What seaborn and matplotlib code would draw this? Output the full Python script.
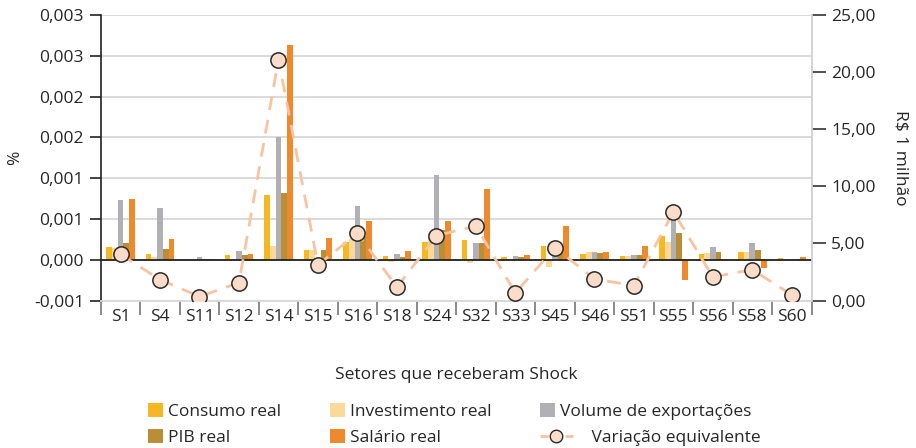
from decimal import Decimal, ROUND_HALF_UP

import numpy as np
import pandas as pd
import matplotlib
matplotlib.use('Agg')
import matplotlib.pyplot as plt
from matplotlib.ticker import FuncFormatter, MultipleLocator, FixedLocator
from matplotlib.patches import Patch, Rectangle
from matplotlib.lines import Line2D
from matplotlib.legend_handler import HandlerPatch, HandlerLine2D
import seaborn as sns

# %%
# data
sectors = ['S1', 'S4', 'S11', 'S12', 'S14', 'S15', 'S16', 'S18', 'S24',
           'S32', 'S33', 'S45', 'S46', 'S51', 'S55', 'S56', 'S58', 'S60']

consumo = [0.000154, 0.00007, 0.00001, 0.00006, 0.0008, 0.000122, 0.000224, 0.000045, 0.000215,
           0.000248, 0.00003, 0.000175, 0.00007, 0.00005, 0.00029, 0.00007, 0.0001, 0.00002]
investimento = [0.00014, 0.00003, 0.00001, 0.0, 0.000167, 0.000126, 0.000256, -0.00003, 0.00033,
                -0.00004, 0.0, -0.00009, 0.0001, 0.00005, 0.00022, 0.00008, 0.00009, 0.0]
exportacoes = [0.00073, 0.00064, 0.00004, 0.000114, 0.0015, 0.0, 0.00066, 0.00007, 0.001045,
               0.0002, 0.000045, 0.00012, 0.0001, 0.00006, 0.00057, 0.00016, 0.0002, 0.0]
pib = [0.0002, 0.000134, 0.00001, 0.00006, 0.00082, 0.000126, 0.00029, 0.00004, 0.00036,
       0.0002, 0.00003, 0.000126, 0.000085, 0.00006, 0.00033, 0.00009, 0.000126, 0.00001]
salario = [0.00075, 0.000256, 0.000005, 0.00007, 0.00263, 0.00027, 0.00048, 0.00011, 0.000476,
           0.00087, 0.00006, 0.00042, 0.0001, 0.000167, -0.00025, 0.0, -0.0001, 0.00003]

variacao = [4.05, 1.84, 0.35, 1.57, 21.1, 3.12, 5.89, 1.17, 5.69,
            6.53, 0.67, 4.64, 1.9, 1.31, 7.78, 2.07, 2.71, 0.5]

series_names = ['Consumo real', 'Investimento real', 'Volume de exportações', 'PIB real', 'Salário real']
colors = ['#F6B822', '#FAD99A', '#B1B1B5', '#B98E36', '#EE8A2C']
line_name = 'Variação equivalente'

# %%
df = pd.DataFrame({
    'setor': np.tile(sectors, len(series_names)),
    'serie': np.repeat(series_names, len(sectors)),
    'valor': np.concatenate([consumo, investimento, exportacoes, pib, salario]),
})

sns.set_style('white')
plt.rcParams['font.family'] = ['Open Sans', 'DejaVu Sans']

fig = plt.figure(figsize=(9.16, 4.48), dpi=100)
ax = fig.add_axes([0.110, 0.329, 0.776, 0.6375])

sns.barplot(data=df, x='setor', y='valor', hue='serie', hue_order=series_names,
            palette=colors, saturation=1, width=0.72, linewidth=0, ax=ax, legend=False)

ax.set_ylim(-0.0005, 0.003)
ax.set_xlim(-0.5, len(sectors) - 0.5)
ax.yaxis.set_major_locator(MultipleLocator(0.0005))


def fmt_left(v, pos):
    d = Decimal(str(round(v, 6))).quantize(Decimal('0.001'), rounding=ROUND_HALF_UP)
    return f'{d:.3f}'.replace('.', ',')


ax.yaxis.set_major_formatter(FuncFormatter(fmt_left))
ax.grid(axis='y', color='#D8D8D8', linewidth=1.3)
ax.set_axisbelow(True)
ax.axhline(0, color='#222222', linewidth=1.3, zorder=3)

ax.set_ylabel('%', fontsize=12.5, labelpad=8)
ax.set_xlabel('Setores que receberam Shock', fontsize=12.5, labelpad=30)

ax.tick_params(axis='y', which='major', left=True, length=8, width=1.2, color='#222222',
               labelsize=12.5, pad=4)
ax.tick_params(axis='x', which='major', length=0, labelsize=12.5, pad=6)
ax.xaxis.set_minor_locator(FixedLocator(np.arange(-0.5, len(sectors), 1.0)))
ax.tick_params(axis='x', which='minor', bottom=True, length=10, width=1.2, color='#777777')

for side in ['top', 'right']:
    ax.spines[side].set_visible(False)
ax.spines['left'].set_color('#222222')
ax.spines['left'].set_linewidth(1.2)
ax.spines['bottom'].set_color('#D8D8D8')
ax.spines['bottom'].set_linewidth(1.3)

# secondary axis - line
ax2 = ax.twinx()
ax2.plot(np.arange(len(sectors)), variacao, linestyle=(0, (5, 3.5)), color='#F8C3A0',
         linewidth=2, marker='o', markersize=11, markerfacecolor='#FBDCC8',
         markeredgecolor='#2A2A2A', markeredgewidth=1.1, zorder=5)
ax2.set_ylim(0, 25)
ax2.set_yticks(np.arange(0, 26, 5))
ax2.yaxis.set_major_formatter(FuncFormatter(lambda v, p: f'{v:.2f}'.replace('.', ',')))
ax2.tick_params(axis='y', right=True, length=10, width=1.2, color='#333333', labelsize=12.5, pad=4)
ax2.set_ylabel('R$ 1 milhão', fontsize=12.5, rotation=-90, labelpad=24)
for side in ['top', 'left', 'bottom']:
    ax2.spines[side].set_visible(False)
ax2.spines['right'].set_color('#CFCFCF')
ax2.spines['right'].set_linewidth(1.3)


# legend
def square_patch(legend, orig_handle, xdescent, ydescent, width, height, fontsize):
    h = 10.2
    return Rectangle((-xdescent, -ydescent + height / 2 - h / 2), width, h)


class WideLine(HandlerLine2D):
    # line handle is drawn wider than the squares, the label is pushed right with spaces
    def create_artists(self, legend, orig_handle, xdescent, ydescent, width, height, fontsize, trans):
        return super().create_artists(legend, orig_handle, xdescent, ydescent, width * 2.2,
                                      height, fontsize, trans)


line_handle = Line2D([], [], linestyle=(0, (2.9, 1.6)), color='#F8C3A0', linewidth=2, marker='o',
                     markersize=9, markerfacecolor='#FBDCC8', markeredgecolor='#2A2A2A')
handles = [Patch(facecolor=c, edgecolor='none') for c in colors] + [line_handle]
labels = series_names + ['       ' + line_name]
order = [0, 3, 1, 4, 2, 5]
fig.legend([handles[i] for i in order], [labels[i] for i in order], ncol=3,
           loc='lower center', bbox_to_anchor=(0.496, -0.03), frameon=False, fontsize=12.5,
           handlelength=0.86, handletextpad=0.29, columnspacing=2.8, labelspacing=0.55,
           handler_map={Patch: HandlerPatch(patch_func=square_patch), Line2D: WideLine()})

fig.savefig('out.png', dpi=100)
